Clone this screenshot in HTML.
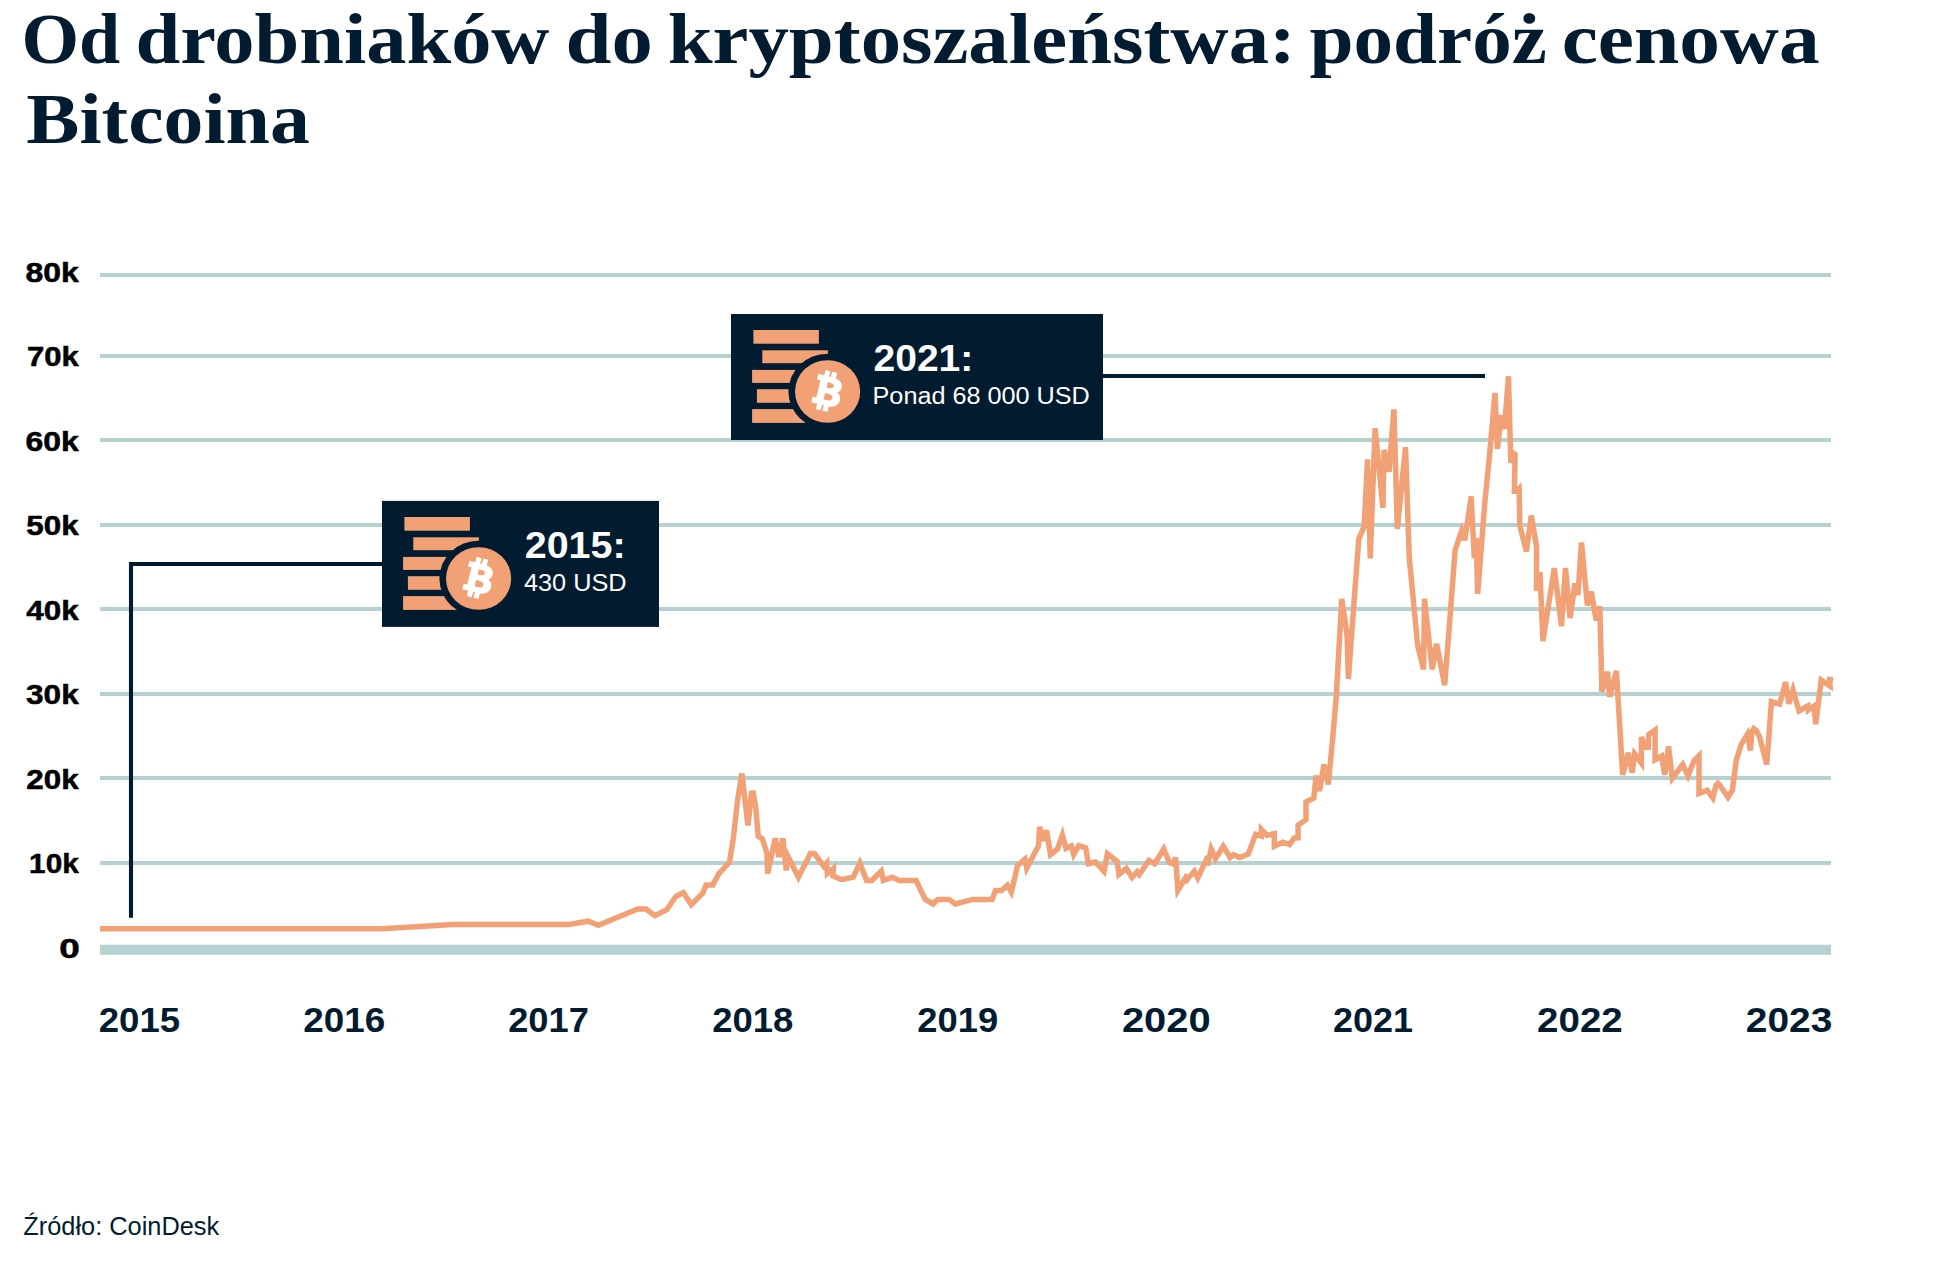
<!DOCTYPE html>
<html lang="pl">
<head>
<meta charset="utf-8">
<title>Od drobniaków do kryptoszaleństwa: podróż cenowa Bitcoina</title>
<style>
html,body{margin:0;padding:0;background:#fff;}
body{width:1940px;height:1271px;overflow:hidden;}
svg{display:block;}
.title{font-family:"Liberation Serif","DejaVu Serif",serif;font-weight:700;font-size:72px;fill:#011c31;}
.ylab{font-family:"Liberation Sans","DejaVu Sans",sans-serif;font-weight:700;font-size:27px;fill:#000;stroke:#000;stroke-width:0.5px;}
.xlab{font-family:"Liberation Sans","DejaVu Sans",sans-serif;font-weight:700;font-size:35.5px;fill:#011c31;}
.src{font-family:"Liberation Sans","DejaVu Sans",sans-serif;font-size:25px;fill:#011c31;}
.cb{font-family:"Liberation Sans","DejaVu Sans",sans-serif;font-weight:700;font-size:37px;fill:#fff;}
.cs{font-family:"Liberation Sans","DejaVu Sans",sans-serif;font-size:24.5px;fill:#fff;}
</style>
</head>
<body>
<svg width="1940" height="1271" viewBox="0 0 1940 1271">
<rect width="1940" height="1271" fill="#fff"/>
<g class="title">
<text transform="translate(21.39 62.5) scale(1.0286 1)">Od</text>
<text transform="translate(135.45 62.5) scale(1.1163 1)">drobniaków</text>
<text transform="translate(565.46 62.5) scale(1.1471 1)">do</text>
<text transform="translate(667.66 62.5) scale(1.1221 1)">kryptoszaleństwa:</text>
<text transform="translate(1309.5 62.5) scale(1.0991 1)">podróż</text>
<text transform="translate(1561.7 62.5) scale(1.1317 1)">cenowa</text>
<text transform="translate(26.29 142.7) scale(1.1075 1)">Bitcoina</text>
</g>
<g id="grid">
<rect x="100" y="272.95" width="1731" height="4.1" fill="#b7d1d1"/>
<rect x="100" y="353.95" width="1731" height="4.1" fill="#b7d1d1"/>
<rect x="100" y="437.95" width="1731" height="4.1" fill="#b7d1d1"/>
<rect x="100" y="522.95" width="1731" height="4.1" fill="#b7d1d1"/>
<rect x="100" y="606.95" width="1731" height="4.1" fill="#b7d1d1"/>
<rect x="100" y="691.95" width="1731" height="4.1" fill="#b7d1d1"/>
<rect x="100" y="775.95" width="1731" height="4.1" fill="#b7d1d1"/>
<rect x="100" y="860.95" width="1731" height="4.1" fill="#b7d1d1"/>
<rect x="100" y="944.7" width="1731" height="10.1" fill="#b7d1d1"/>
</g>
<g class="ylab">
<text transform="translate(25.42 282.3) scale(1.1841 1)">80k</text>
<text transform="translate(26.95 365.5) scale(1.15 1)">70k</text>
<text transform="translate(25.42 450.5) scale(1.1841 1)">60k</text>
<text transform="translate(26.34 535) scale(1.1636 1)">50k</text>
<text transform="translate(26.3 620) scale(1.1644 1)">40k</text>
<text transform="translate(26.03 704) scale(1.1705 1)">30k</text>
<text transform="translate(26.34 789) scale(1.1636 1)">20k</text>
<text transform="translate(29.1 873.2) scale(1.1023 1)">10k</text>
<text transform="translate(59.23 957.6) scale(1.3692 1)">0</text>
</g>
<g class="xlab">
<text transform="translate(98.77 1032.2) scale(1.0312 1)">2015</text>
<text transform="translate(303.16 1032.2) scale(1.039 1)">2016</text>
<text transform="translate(508.18 1032.2) scale(1.0224 1)">2017</text>
<text transform="translate(712.17 1032.2) scale(1.0286 1)">2018</text>
<text transform="translate(917.28 1032.2) scale(1.0234 1)">2019</text>
<text transform="translate(1121.88 1032.2) scale(1.1237 1)">2020</text>
<text transform="translate(1332.99 1032.2) scale(1.013 1)">2021</text>
<text transform="translate(1537.12 1032.2) scale(1.0844 1)">2022</text>
<text transform="translate(1745.8 1032.2) scale(1.0974 1)">2023</text>
</g>
<polyline fill="none" stroke="#f2a176" stroke-width="5.5" stroke-linejoin="miter" stroke-miterlimit="4" points="100,928.8 382,928.8 453,924.5 568.5,924.5 588.3,921.2 598.2,925.2 637.8,909.0 646,909.0 655,915.6 666.8,909.7 675.7,896.5 683.3,892.5 691.3,904.6 702.7,893.1 706.1,885.1 712.8,885.1 718.8,873.7 729.5,862.3 733.5,836.9 737.5,800.8 741.9,773.5 747.9,825.5 751.5,793.2 753.2,793.0 755.6,806.2 758.2,836.3 762.3,838.9 766.9,853.0 767.6,873.6 775.3,838.4 778.95,857.0 782.85,838.4 786.3,870.4 788.3,857.0 798.4,877.1 810.4,853.6 814.4,853.6 823.8,866.4 826.7,863.0 827.3,873.5 833.4,868.5 832.9,875.7 840.5,879.2 843.8,879.2 853.2,877.1 859.9,863.0 866.6,880.4 871.9,880.4 881.3,871.0 883.3,880.4 892.3,877.3 899.1,880.5 916.1,880.5 925.2,899.4 933.1,904.0 937.6,899.4 949,899.4 955.2,904.0 972.8,899.4 992.1,899.4 995.5,890.4 1001.7,890.4 1007.4,885.3 1011.3,892.1 1017.6,865.4 1025,859.2 1026.7,868.2 1038.6,845.6 1039.45,826.8 1043.1,838.7 1044.2,838.7 1046.5,830.1 1050.5,854.6 1057.5,849.0 1062.4,835.0 1066,848.4 1071.4,846.1 1073.7,854.6 1078.8,845.6 1085.6,847.8 1088.5,863.7 1095.3,862.0 1104,871.4 1107.4,853.8 1117.2,861.5 1118.9,874.5 1126.3,868.3 1132,877.4 1137.1,871.7 1139.3,874.5 1149,860.4 1154.6,863.8 1163.7,849.0 1169.4,862.6 1172.8,863.8 1175.6,857.5 1177.9,890.4 1187.5,874.5 1184.7,882.5 1194.3,871.1 1197.7,877.9 1207.9,856.4 1207.5,865.5 1211.1,849.0 1215.5,858.7 1223.3,846.2 1230.1,857.5 1233.5,854.7 1239.7,857.5 1248.2,854.1 1255.6,834.3 1261.2,836.0 1261.4,829.5 1266.9,835.4 1274.3,833.7 1274.3,846.2 1282.8,842.2 1289.6,844.5 1294.1,838.2 1298.1,837.7 1298.1,825.2 1306,819.5 1306,802.0 1313.8,798.0 1316.15,775.5 1319.45,791.1 1324,764.5 1328.25,784.4 1332.5,740.6 1336.3,696.0 1341.75,599.0 1347,634.2 1348.4,679.0 1354.1,601.0 1358.8,538.8 1364.1,526.6 1367.55,459.4 1370.25,558.4 1375.1,428.2 1382.9,507.9 1384.05,449.8 1389,471.7 1393.9,409.4 1397.35,529.0 1405.5,447.2 1409.3,558.3 1417.7,645.5 1423.55,669.4 1424.45,598.9 1432.2,669.4 1436.6,643.8 1444.65,685.1 1449.8,620.0 1455.1,550.0 1461.7,530.7 1464.7,540.3 1471.2,496.4 1474.3,558.3 1476.3,538.0 1477.65,594.0 1484.9,501.6 1489.6,454.4 1495,392.9 1497.35,448.8 1501.4,415.2 1504.45,428.8 1508.45,376.2 1510.8,462.9 1513.2,453.2 1515.1,454.4 1514.4,491.2 1516.7,491.2 1519.1,488.7 1519.8,525.3 1526.4,551.5 1531.35,515.5 1536.6,547.0 1536.45,590.8 1539.95,572.2 1542.95,641.2 1554.3,568.1 1561.5,626.2 1565.45,568.1 1570.05,618.0 1574.9,583.5 1577.95,595.1 1581.45,542.5 1587.4,605.5 1591.3,591.6 1596.2,620.5 1599.85,606.4 1601.9,691.6 1607.6,671.8 1609.6,696.8 1616.4,671.0 1622.7,774.9 1628.2,752.9 1632.2,772.6 1634.6,754.0 1641.4,763.2 1641.4,736.9 1645.3,747.3 1648.3,747.3 1648.7,734.6 1655.1,730.0 1655.1,759.7 1661.6,756.0 1664.75,774.7 1668.55,746.4 1672.3,778.2 1682.7,764.5 1688,775.8 1694,760.7 1699,755.7 1699,793.5 1707.2,790.3 1712.9,797.9 1716,785.3 1717.9,783.4 1719.8,785.3 1728,797.2 1732.4,790.3 1736.2,760.7 1741.2,744.4 1747.5,734.3 1750.35,750.6 1751.9,731.8 1753.8,728.6 1756.3,730.5 1759.5,736.8 1766.75,764.5 1771.4,701.6 1779.6,704.1 1785.6,682.1 1788.8,703.8 1793,690.0 1799,711.0 1808,706.0 1808.4,710.0 1814.2,706.0 1815.7,724.2 1821.2,680.1 1830,686.0 1829.6,679.6 1833,679.6"/>
<path d="M382 564 H131 V917.8" fill="none" stroke="#011c31" stroke-width="4.1"/>
<path d="M1103 376 H1485" fill="none" stroke="#011c31" stroke-width="4.1"/>
<g id="box2015" transform="translate(382 501)">
<rect y="-0.1" width="277" height="126" fill="#011c31"/>
<g id="coin">
<rect x="22.4" y="16" width="65.5" height="13.7" fill="#f2a176"/>
<rect x="31.3" y="36.3" width="65.6" height="12.9" fill="#f2a176"/>
<rect x="21.1" y="55.9" width="66" height="13" fill="#f2a176"/>
<rect x="25.9" y="75.2" width="66" height="13.6" fill="#f2a176"/>
<rect x="21.1" y="95.1" width="66" height="13.8" fill="#f2a176"/>
<ellipse cx="96.6" cy="77.5" rx="39.2" ry="37.8" fill="#011c31"/>
<ellipse cx="96.6" cy="77.5" rx="32.6" ry="31.3" fill="#f2a176"/>
<g transform="translate(95.6 77) rotate(14) scale(1.04 1)" fill="#fff" stroke="#fff" stroke-width="1.3">
<path d="M-11 -14 H2 C9 -14 12.5 -11 12.5 -6.5 C12.5 -3.5 10.8 -1.6 8.5 -0.8 C12 0 14 2.5 14 6 C14 11 10 14 3.5 14 H-11 V9.5 H-7.5 V-9.5 H-11 Z M-1.5 -9.5 V-2.8 H1 C4.5 -2.8 6.3 -4 6.3 -6.2 C6.3 -8.4 4.5 -9.5 1 -9.5 Z M-1.5 1.6 V9.5 H2 C5.8 9.5 7.7 8.2 7.7 5.5 C7.7 2.9 5.8 1.6 2 1.6 Z" fill-rule="evenodd"/>
<rect x="-5.2" y="-19.5" width="3.6" height="7"/>
<rect x="1.4" y="-19.5" width="3.6" height="7"/>
<rect x="-5.2" y="12.5" width="3.6" height="7"/>
<rect x="1.4" y="12.5" width="3.6" height="7"/>
</g>
</g>
<text class="cb" transform="translate(142.73 56.9) scale(1.0656 1)">2015:</text>
<text class="cs" transform="translate(141.97 90) scale(1.033 1)">430 USD</text>
</g>
<g id="box2021" transform="translate(731 314)">
<rect width="372" height="126" fill="#011c31"/>
<use href="#coin"/>
<text class="cb" transform="translate(142.55 57.1) scale(1.0544 1)">2021:</text>
<text class="cs" transform="translate(141.54 89.7) scale(1.0293 1)">Ponad 68 000 USD</text>
</g>
<text class="src" transform="translate(23.28 1234.6) scale(1.0151 1)">Źródło: CoinDesk</text>
</svg>
</body>
</html>
